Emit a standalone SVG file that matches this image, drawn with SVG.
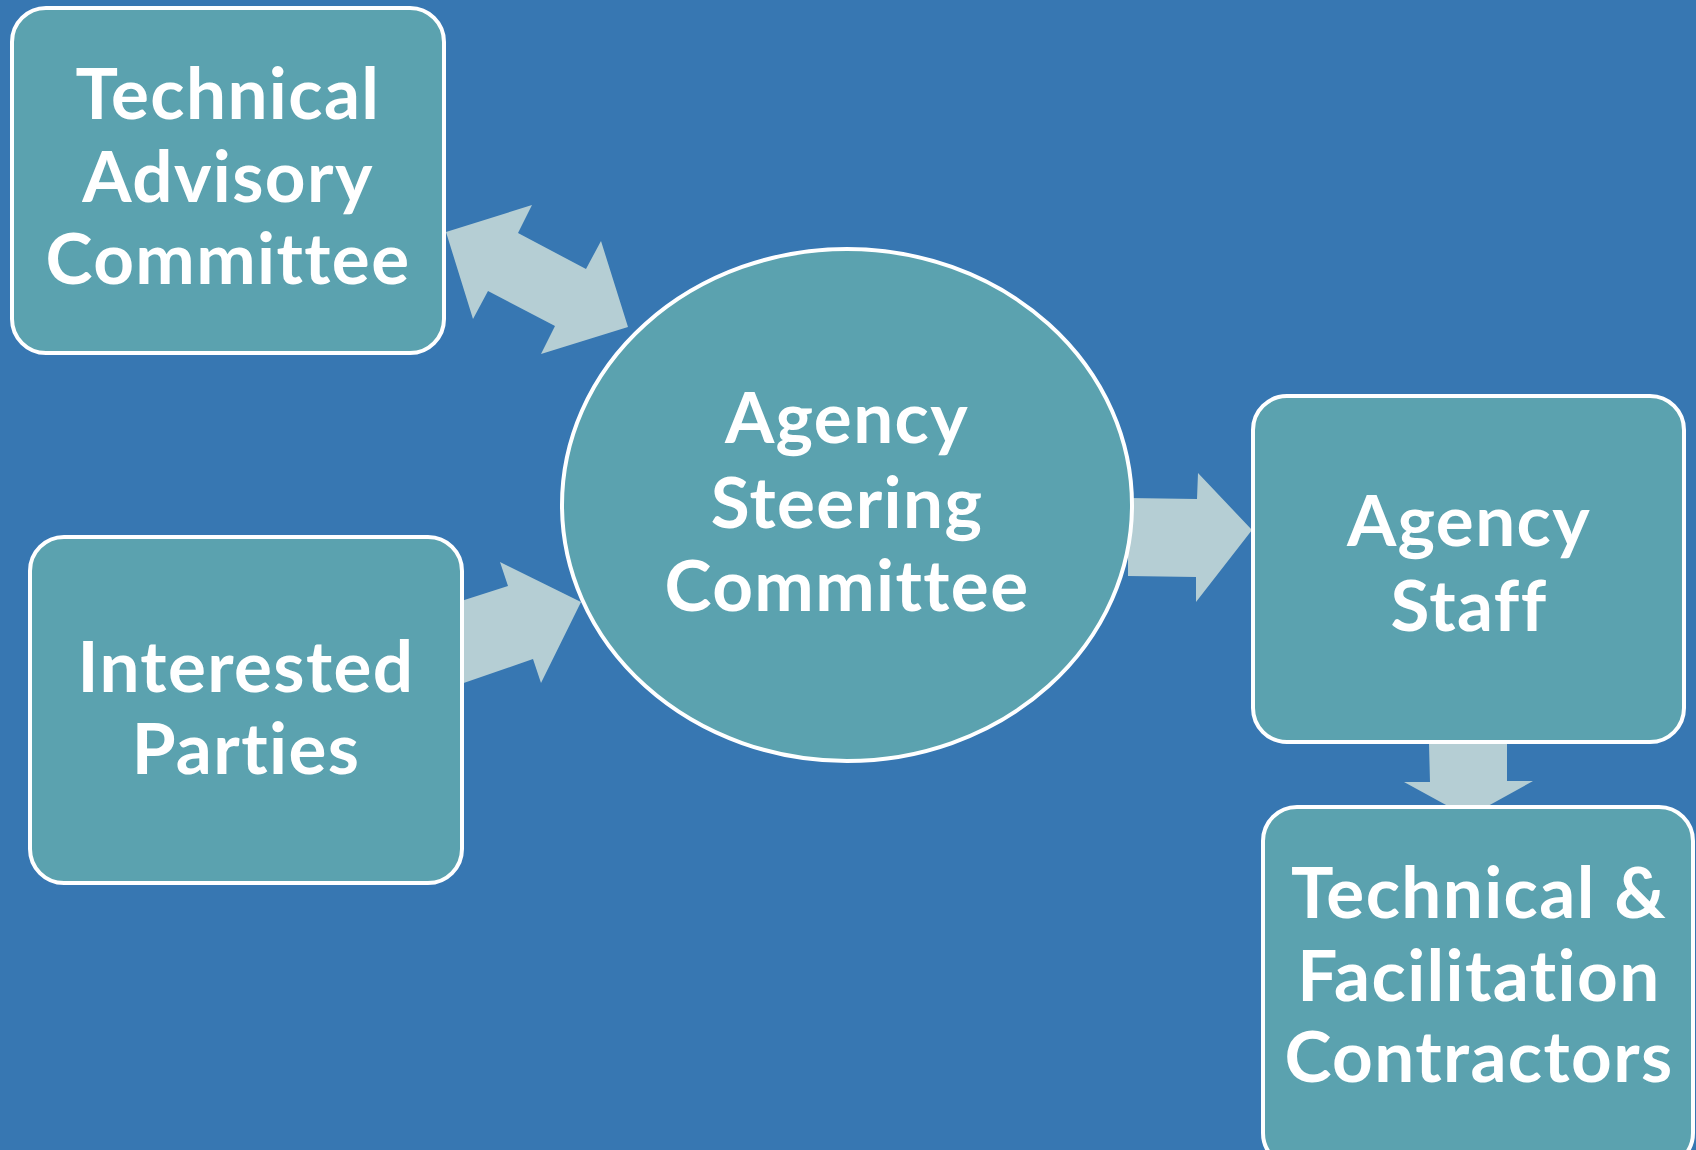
<svg xmlns="http://www.w3.org/2000/svg" width="1696" height="1150" viewBox="0 0 1696 1150">
<style>
.node{fill:#5BA2AF;stroke:#FFFFFF;stroke-width:4}
.arrow{fill:#B5CED4;stroke:none}
.lbl{font-family:Lato,"Noto Sans","Liberation Sans",sans-serif;font-weight:bold;font-size:71px;letter-spacing:1.4px;font-variant-ligatures:none;font-feature-settings:"liga" 0,"clig" 0,"dlig" 0;fill:#FFFFFF;text-anchor:middle}
</style>
<rect x="0" y="0" width="1696" height="1150" fill="#3777B2"/>
<g id="connectors">
<polygon class="arrow" points="446,232 532,205 518,233 586,269 601,241 628,327 541,354 555,326 488,291 473,319"/>
<polygon class="arrow" points="455,603 508,586 500,562 581,602 541,683 533,659 455,686"/>
<polygon class="arrow" points="1128,498 1197,499 1198,473 1252,530 1196,602 1196,577 1128,576"/>
<polygon class="arrow" points="1429,744 1507,744 1507,781 1533,781 1468,817 1404,782 1430,782"/>
</g>
<g id="tac">
<rect class="node" x="12" y="8" width="432" height="345" rx="34"/>
<text class="lbl" x="228" y="119">Technical</text>
<text class="lbl" x="228" y="202">Advisory</text>
<text class="lbl" x="228" y="284">Committee</text>
</g>
<g id="ip">
<rect class="node" x="30" y="537" width="432" height="346" rx="34"/>
<text class="lbl" x="246" y="692">Interested</text>
<text class="lbl" x="246" y="774">Parties</text>
</g>
<g id="asc">
<ellipse class="node" cx="847" cy="505" rx="285" ry="256"/>
<text class="lbl" x="847" y="443">Agency</text>
<text class="lbl" x="847" y="528">Steering</text>
<text class="lbl" x="847" y="611">Committee</text>
</g>
<g id="staff">
<rect class="node" x="1253" y="396" width="431" height="346" rx="34"/>
<text class="lbl" x="1469" y="546">Agency</text>
<text class="lbl" x="1469" y="631">Staff</text>
</g>
<g id="contractors">
<rect class="node" x="1263" y="807" width="430" height="360" rx="34"/>
<text class="lbl" x="1479" y="918">Technical &amp;</text>
<text class="lbl" x="1479" y="1001">Facilitation</text>
<text class="lbl" x="1479" y="1082">Contractors</text>
</g>
</svg>
